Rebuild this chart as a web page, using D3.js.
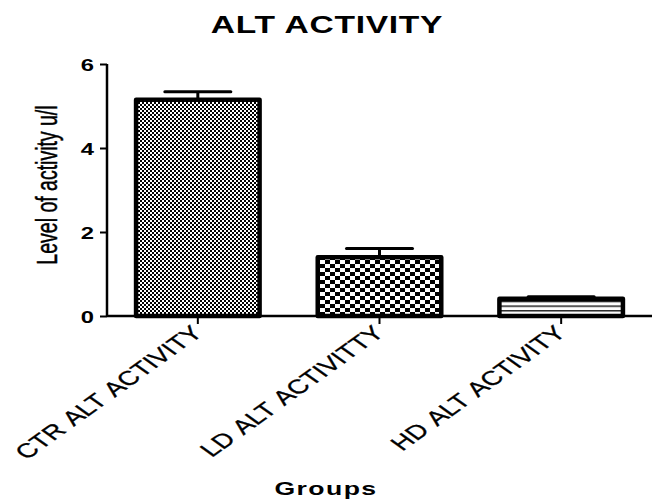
<!DOCTYPE html>
<html>
<head>
<meta charset="utf-8">
<script src="https://cdn.jsdelivr.net/npm/d3@7"></script>
<style>
  html, body { margin: 0; padding: 0; background: #fff; }
  svg { display: block; }
  text { font-family: "Liberation Sans", Arial, sans-serif; fill: #000; }
</style>
</head>
<body>
<svg id="chart" width="654" height="500"></svg>
<script>
// ALT activity per group (u/l), mean and SEM
const groups = ["CTR ALT ACTIVITY", "LD ALT ACTIVITTY", "HD ALT ACTIVITY"];
const means = [5.15, 1.40, 0.41];
const errors = [0.19, 0.21, 0.05];
const yTicks = [0, 2, 4, 6];
const fills = ["url(#fineCheck)", "url(#coarseCheck)", "url(#hLines)"];

const titleText = "ALT ACTIVITY";
const xTitle = "Groups";
const yTitle = "Level of activity u/l";

// Glyphs are drawn horizontally widened
const SX = 1.4;

const svg = d3.select("#chart");

const x = d3.scaleBand().domain(groups).range([107, 652]).padding(0);
const y = d3.scaleLinear().domain([0, 6]).range([316, 64]);
const barW = x.bandwidth() * 0.68;

// Fill patterns
const defs = svg.append("defs");
const p1 = defs.append("pattern").attr("id", "fineCheck")
  .attr("patternUnits", "userSpaceOnUse").attr("width", 4).attr("height", 4);
p1.append("rect").attr("width", 4).attr("height", 4).attr("fill", "#fff");
p1.append("rect").attr("width", 2).attr("height", 2).attr("fill", "#000");
p1.append("rect").attr("x", 2).attr("y", 2).attr("width", 2).attr("height", 2).attr("fill", "#000");

const p2 = defs.append("pattern").attr("id", "coarseCheck")
  .attr("patternUnits", "userSpaceOnUse").attr("width", 10).attr("height", 8);
p2.append("rect").attr("width", 10).attr("height", 8).attr("fill", "#fff");
p2.append("rect").attr("width", 5).attr("height", 4).attr("fill", "#000");
p2.append("rect").attr("x", 5).attr("y", 4).attr("width", 5).attr("height", 4).attr("fill", "#000");

const p3 = defs.append("pattern").attr("id", "hLines")
  .attr("patternUnits", "userSpaceOnUse").attr("width", 10).attr("height", 4.7);
p3.append("rect").attr("width", 10).attr("height", 4.7).attr("fill", "#fff");
p3.append("rect").attr("y", 0).attr("width", 10).attr("height", 1.3).attr("fill", "#000");

// Title
svg.append("text")
  .attr("transform", `translate(327,33) scale(${SX},1)`)
  .attr("text-anchor", "middle")
  .style("font-size", "24px").style("font-weight", "bold")
  .style("letter-spacing", "0.5px")
  .text(titleText);

// Error bars (upper whisker only)
const eb = svg.append("g").attr("stroke", "#000").attr("stroke-width", 3).attr("fill", "none");
groups.forEach((g, i) => {
  const cx = x(g) + x.bandwidth() / 2;
  eb.append("line").attr("x1", cx).attr("x2", cx)
    .attr("y1", y(means[i])).attr("y2", y(means[i] + errors[i]));
  eb.append("line").attr("x1", cx - 33).attr("x2", cx + 33)
    .attr("y1", y(means[i] + errors[i])).attr("y2", y(means[i] + errors[i]))
    .attr("stroke-linecap", "round");
});

// Bars
svg.append("g").selectAll("rect").data(groups).join("rect")
  .attr("x", d => x(d) + (x.bandwidth() - barW) / 2)
  .attr("width", barW)
  .attr("y", (d, i) => y(means[i]))
  .attr("height", (d, i) => y(0) - y(means[i]))
  .attr("fill", (d, i) => fills[i])
  .attr("stroke", "#000").attr("stroke-width", 4.5)
  .attr("stroke-linejoin", "round");

// Y axis
const yAxis = svg.append("g").attr("transform", "translate(107,0)")
  .call(d3.axisLeft(y).tickValues(yTicks).tickFormat(d3.format("d")).tickSize(7).tickPadding(4));
yAxis.select(".domain").attr("stroke-width", 2.5).attr("d", `M0,${y(6)}V${y(0)}`);
yAxis.selectAll(".tick line").attr("stroke-width", 2);
yAxis.selectAll(".tick text")
  .attr("x", null).attr("dy", null)
  .attr("text-anchor", "end")
  .attr("transform", `translate(-13,6) scale(${SX},1)`)
  .style("font-size", "17px").style("font-weight", "bold")
  .style("font-family", "'Liberation Sans', Arial, sans-serif");

// X axis
const xAxis = svg.append("g").attr("transform", `translate(0,${y(0)})`)
  .call(d3.axisBottom(x).tickSize(8).tickSizeOuter(0));
xAxis.select(".domain").attr("stroke-width", 2.5).attr("d", "M107,0H652");
xAxis.selectAll(".tick line").attr("stroke-width", 2);
xAxis.selectAll(".tick text")
  .attr("y", null).attr("dy", null)
  .attr("text-anchor", "end")
  .attr("transform", `translate(6,18) scale(${SX},1) rotate(-45)`)
  .style("font-size", "20px")
  .style("word-spacing", "2px")
  .style("stroke", "#000").style("stroke-width", "0.3px")
  .style("font-family", "'Liberation Sans', Arial, sans-serif");

// Axis titles
svg.append("text")
  .attr("transform", `translate(326,495) scale(${SX},1)`)
  .attr("text-anchor", "middle")
  .style("font-size", "19px").style("font-weight", "bold")
  .style("letter-spacing", "1px")
  .text(xTitle);

svg.append("text")
  .attr("transform", `translate(57,185) scale(1.55,1) rotate(-90)`)
  .attr("text-anchor", "middle")
  .style("font-size", "19.5px")
  .style("stroke", "#000").style("stroke-width", "0.3px")
  .text(yTitle);
</script>
</body>
</html>
